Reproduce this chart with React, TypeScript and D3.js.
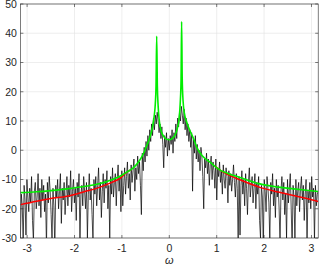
import React from "react";
import * as d3 from "d3";

const W = 319;
const H = 268;
const margin = { left: 20.4, right: 0.8, top: 4, bottom: 30 };

const xTicks = [-3, -2, -1, 0, 1, 2, 3];
const yTicks = [-30, -20, -10, 0, 10, 20, 30, 40, 50];

// Periodogram (dB) on 321 equally spaced frequencies from -pi to pi
const periodogram = [
  -30, -15, -19, -32, -12, -17, -29, -10, -16, -21,
  -13, -18, -9, -24, -31, -14, -11, -20, -16, -8,
  -19, -13, -23, -10, -17, -12, -21, -15, -33, -11,
  -18, -9, -14, -22, -31, -13, -19, -34, -12, -16,
  -10, -20, -14, -8, -25, -13, -17, -11, -22, -15,
  -9, -19, -12, -16, -7, -21, -14, -10, -18, -13,
  -24, -11, -16, -8, -32, -15, -12, -19, -9, -14,
  -20, -11, -30, -15, -8, -17, -13, -22, -31, -10,
  -15, -9, -19, -12, -6, -17, -11, -23, -14, -8,
  -18, -10, -13, -7, -20, -12, -30, -9, -15, -6,
  -16, -11, -8, -19, -10, -5, -14, -9, -21, -7,
  -19, -12, -6, -15, -9, -4, -13, -8, -17, -5,
  -11, -7, -3, -14, -6, -10, -2, -8, -4, -12,
  -22, -1, -7, 1, -4, 3, -2, 5, 0, 7,
  3, 9, 5, 11, 7, 12, 9, 13, 10, 6,
  9, 4, 8, 2, -6, 5, 1, 6, -2, 4,
  0, 5, 2, 7, -1, 6, 3, 9, 4, 11,
  8, 13, 10, 15, 12, 9, 14, 7, 11, 5,
  9, 3, 7, 1, 6, -14, 4, -1, 5, -3,
  2, -4, 0, -7, 1, -2, -9, -20, -3, -6,
  -1, -8, -3, -12, -5, -2, -10, -4, -7, -13,
  -3, -17, -6, -9, -4, -11, -7, -15, -5, -10,
  -13, -6, -9, -18, -7, -12, -8, -14, -10, -5,
  -11, -16, -8, -13, -31, -9, -29, -12, -7, -15,
  -10, -19, -8, -13, -22, -11, -6, -16, -12, -9,
  -18, -13, -8, -20, -11, -15, -9, -24, -30, -12,
  -16, -33, -10, -14, -21, -9, -13, -18, -31, -11,
  -15, -8, -19, -13, -23, -10, -16, -12, -20, -32,
  -14, -9, -17, -11, -22, -15, -30, -10, -18, -13,
  -8, -20, -34, -12, -16, -31, -10, -19, -14, -11,
  -21, -13, -9, -17, -12, -24, -15, -10, -33, -14,
  -18, -11, -20, -9, -16, -13, -31, -12, -19, -15,
  -14,
];

// Estimated model spectrum (green)
const greenW = [
  -3.1416, -2.8, -2.5, -2.16, -1.8, -1.46, -1.2, -1.04, -0.9, -0.76, -0.65, -0.55, -0.47, -0.41,
  -0.36, -0.32, -0.295, -0.28, -0.266, -0.252, -0.235, -0.21, -0.17, -0.12, -0.06, 0.0,
  0.06, 0.12, 0.17, 0.205, 0.23, 0.248, 0.26, 0.272, 0.29, 0.32, 0.37, 0.44, 0.51, 0.58,
  0.7, 0.86, 1.07, 1.25, 1.49, 1.91, 2.3, 2.62, 2.9, 3.1416,
];
const greenDb = [
  -14.5, -14.2, -13.8, -13.2, -12.4, -11.4, -10.0, -8.9, -7.5, -6.0, -4.0, -1.3, 1.8, 4.4,
  7.5, 11.5, 16.0, 22.0, 39.0, 22.0, 15.0, 10.0, 6.5, 4.8, 3.8, 3.6,
  4.0, 5.2, 7.5, 10.5, 16.0, 24.0, 44.0, 25.0, 17.0, 12.5, 9.5, 6.5, 4.0, 1.0,
  -2.0, -4.1, -6.8, -8.0, -9.3, -11.5, -12.6, -13.2, -13.7, -14.1,
];

// Reference spectrum (red): visible tails; it runs under the green curve in between
const redLeftW = [-3.1416, -2.8, -2.5, -2.16, -1.8, -1.46, -1.2, -1.04, -0.9, -0.8];
const redLeftDb = [-18.6, -17.4, -16.5, -15.7, -14.2, -12.6, -10.9, -9.6, -7.6, -6.5];
const redRightW = [0.95, 1.07, 1.25, 1.49, 1.91, 2.3, 2.62, 2.9, 3.1416];
const redRightDb = [-5.2, -6.8, -8.4, -10.1, -12.7, -14.3, -15.5, -16.5, -17.5];

export default function App() {
  const x = d3
    .scaleLinear()
    .domain([-Math.PI, Math.PI])
    .range([margin.left, W - margin.right]);
  const y = d3
    .scaleLinear()
    .domain([-30, 50])
    .range([H - margin.bottom, margin.top]);

  const n = periodogram.length;
  const pData = periodogram.map((v, i) => [-Math.PI + (2 * Math.PI * i) / (n - 1), v]);
  const line = d3
    .line<number[]>()
    .x((d) => x(d[0]))
    .y((d) => y(d[1]));
  const smooth = d3
    .line<number[]>()
    .x((d) => x(d[0]))
    .y((d) => y(d[1]))
    .curve(d3.curveMonotoneX);

  const gData = greenW.map((w, i) => [w, greenDb[i]]);
  const rLeft = redLeftW.map((w, i) => [w, redLeftDb[i]]);
  const rRight = redRightW.map((w, i) => [w, redRightDb[i]]);

  const x0 = margin.left;
  const x1 = W - margin.right;
  const y0 = margin.top;
  const y1 = H - margin.bottom;
  const axisColor = "#262626";
  const font = "'Liberation Sans', Arial, Helvetica, sans-serif";
  const tl = 3;

  return (
    <svg
      width={W}
      height={H}
      style={{ position: "absolute", left: 0, top: 0, background: "#fff" }}
    >
      <defs>
        <clipPath id="plotclip">
          <rect x={x0} y={y0} width={x1 - x0} height={y1 - y0} />
        </clipPath>
      </defs>
      <rect x={0} y={0} width={W} height={H} fill="#fff" />
      {xTicks.map((t) => (
        <line key={"gx" + t} x1={x(t)} x2={x(t)} y1={y0} y2={y1} stroke="#e3e3e3" strokeWidth={0.6} />
      ))}
      {yTicks.map((t) => (
        <line key={"gy" + t} x1={x0} x2={x1} y1={y(t)} y2={y(t)} stroke="#e3e3e3" strokeWidth={0.6} />
      ))}
      <g clipPath="url(#plotclip)">
        <path d={line(pData) || ""} fill="none" stroke="#000" strokeWidth={0.7} />
        <path d={smooth(rLeft) || ""} fill="none" stroke="#ff0000" strokeWidth={1.5} />
        <path d={smooth(rRight) || ""} fill="none" stroke="#ff0000" strokeWidth={1.5} />
        <path d={smooth(gData) || ""} fill="none" stroke="#00ee00" strokeWidth={1.6} />
      </g>
      <rect x={x0} y={y0} width={x1 - x0} height={y1 - y0} fill="none" stroke={axisColor} strokeWidth={0.6} />
      {xTicks.map((t) => (
        <g key={"tx" + t}>
          <line x1={x(t)} x2={x(t)} y1={y1} y2={y1 - tl} stroke={axisColor} strokeWidth={0.6} />
          <line x1={x(t)} x2={x(t)} y1={y0} y2={y0 + tl} stroke={axisColor} strokeWidth={0.6} />
          <text x={x(t)} y={y1 + 14} textAnchor="middle" fontSize={10.5} fill={axisColor} fontFamily={font}>
            {t < 0 ? "-" + Math.abs(t) : String(t)}
          </text>
        </g>
      ))}
      {yTicks.map((t) => (
        <g key={"ty" + t}>
          <line x1={x0} x2={x0 + tl} y1={y(t)} y2={y(t)} stroke={axisColor} strokeWidth={0.6} />
          <line x1={x1} x2={x1 - tl} y1={y(t)} y2={y(t)} stroke={axisColor} strokeWidth={0.6} />
          <text x={x0 - 3.5} y={y(t)} dy="0.36em" textAnchor="end" fontSize={10.5} fill={axisColor} fontFamily={font}>
            {t < 0 ? "-" + Math.abs(t) : String(t)}
          </text>
        </g>
      ))}
      <text
        x={(x0 + x1) / 2}
        y={H - 4}
        textAnchor="middle"
        fontSize={11}
        fontStyle="italic"
        fill={axisColor}
        fontFamily={font}
      >
        ω
      </text>
    </svg>
  );
}
